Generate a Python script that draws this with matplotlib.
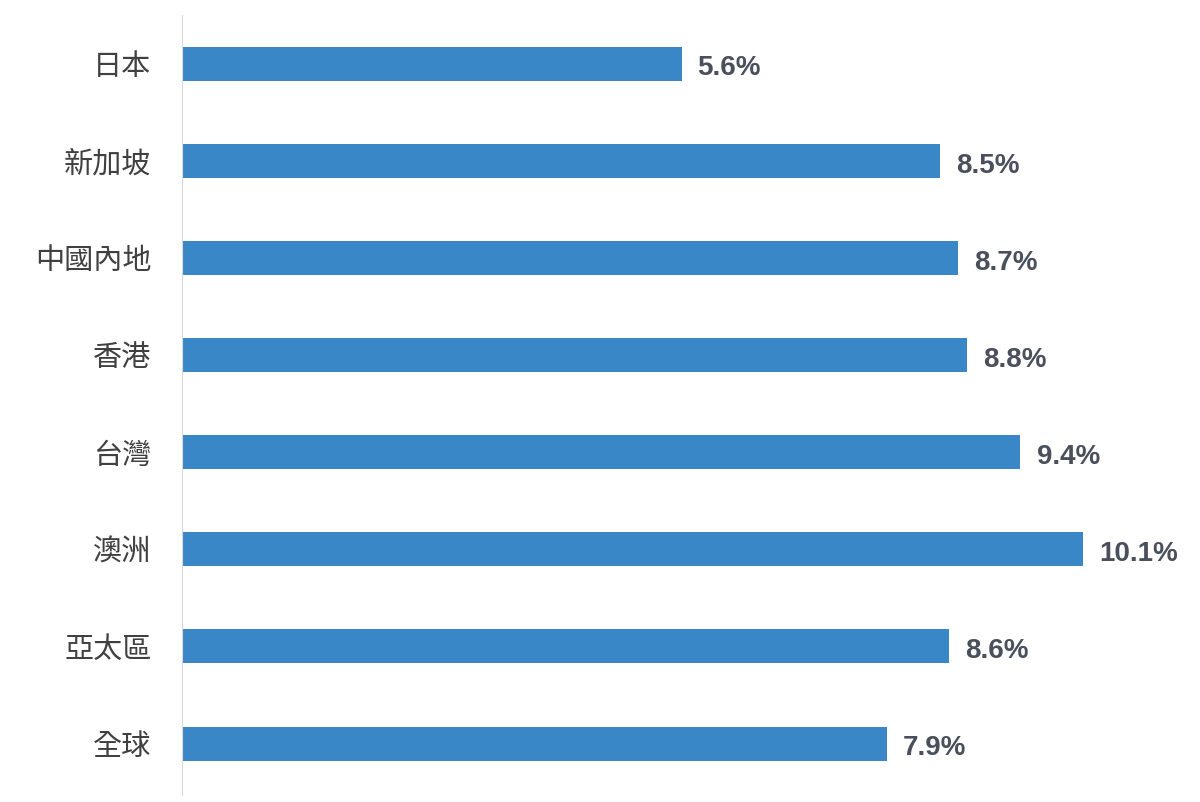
import matplotlib
matplotlib.use("Agg")
import matplotlib.pyplot as plt

# === Data ===
regions = ['日本', '新加坡', '中國內地', '香港', '台灣', '澳洲', '亞太區', '全球']
values = [5.6, 8.5, 8.7, 8.8, 9.4, 10.1, 8.6, 7.9]

plt.rcParams['font.family'] = ['Noto Sans CJK TC', 'DejaVu Sans']

fig = plt.figure(figsize=(12, 8.02), dpi=100)
ax = fig.add_axes([182 / 1200, 7 / 802, (1190 - 182) / 1200, 780 / 802])

pos = list(range(len(regions)))
ax.barh(pos, values, height=0.35, color='#3a87c8')

for p, v in zip(pos, values):
    ax.text(v + 0.18, p + 0.05, f'{v}%', va='center', ha='left', fontsize=20,
            fontweight='bold', color='#4a4f5c', family=['Liberation Sans', 'DejaVu Sans'])

ax.set_xlim(0, (1190 - 182) / 89.2)
ax.set_ylim(7.53, -0.5)
ax.set_yticks(pos)
ax.set_yticklabels(regions, fontsize=21, color='#404040')
ax.tick_params(axis='y', length=0, pad=22)
ax.set_xticks([])
for s in ['top', 'right', 'bottom']:
    ax.spines[s].set_visible(False)
ax.spines['left'].set_color('#d9d9d9')

fig.savefig('out.png', dpi=100)
